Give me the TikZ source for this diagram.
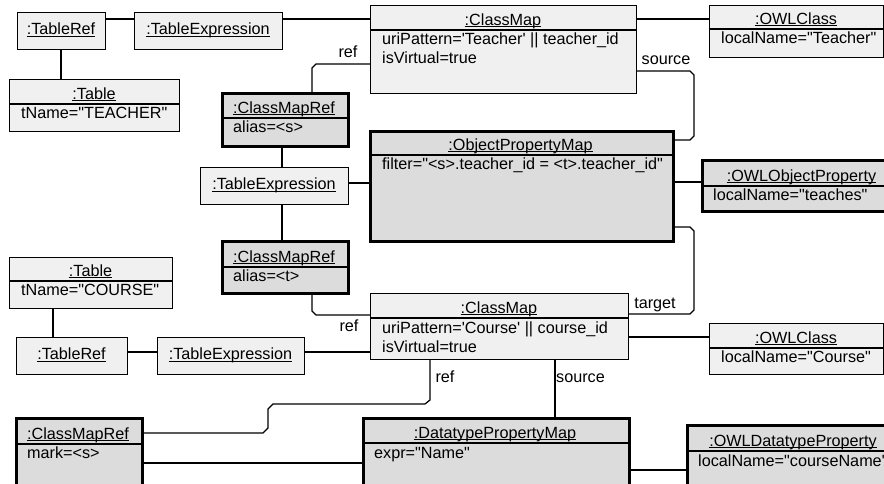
\documentclass[tikz,border=0pt]{standalone}
\usepackage{fontspec}
\setmainfont{Liberation Sans}[Ligatures=TeXOff]
\definecolor{objlight}{HTML}{F0F0F0}
\definecolor{objdark}{HTML}{DCDCDC}

% object box with a single compartment: style, name, x1, y1, x2, y2, title
\newcommand\objsimple[7]{%
  \node[#1, anchor=north west, minimum width={(#5)-(#3)}, minimum height={(#6)-(#4)}] (#2) at (#3,#4) {};
  \node[txt, anchor=base] (#2-title) at ({((#3)+(#5))/2},{((#4)+(#6))/2+4}) {#7};
  \draw[uline] ([yshift=-1.6pt]#2-title.base west) -- ([yshift=-1.6pt]#2-title.base east);
}
% object box with a name compartment and an attribute compartment:
% style, name, x1, y1, x2, y2, divider y, title
\newcommand\objcomp[8]{%
  \node[#1, anchor=north west, minimum width={(#5)-(#3)}, minimum height={(#6)-(#4)}] (#2) at (#3,#4) {};
  \draw[divider] (#3,#7) -- (#5,#7);
  \node[txt, anchor=base] (#2-title) at ({((#3)+(#5))/2},{(#7)-5}) {#8};
  \draw[uline] ([yshift=-1.6pt]#2-title.base west) -- ([yshift=-1.6pt]#2-title.base east);
}

\begin{document}
\begin{tikzpicture}[x=1pt,y=-1pt,
  txt/.style={inner sep=0pt, font=\fontsize{16.2}{18}\selectfont},
  attr/.style={txt, anchor=base west},
  lbl/.style={txt, anchor=base},
  lightobj/.style={draw=black, fill=objlight, line width=1.2pt, inner sep=0pt},
  darkobj/.style={draw=black, fill=objdark, line width=3pt, inner sep=0pt},
  divider/.style={draw=black, line width=1.2pt},
  uline/.style={draw=black, line width=0.9pt},
  conn/.style={draw=black, line width=1.2pt}]

\useasboundingbox (0,0) rectangle (884,483);
\fill[white] (0,0) rectangle (884,483);
\clip (0,0) rectangle (884,483);

% ---- Teacher side ----
\objsimple{lightobj}{tref1}{17}{12}{105}{49}{:TableRef}
\objsimple{lightobj}{texp1}{134}{12}{282}{49}{:TableExpression}

\objcomp{lightobj}{table1}{9}{79}{179}{131}{104}{:Table}
\node[attr] (table1-a1) at (21,118) {tName="TEACHER"};

\objcomp{lightobj}{cm1}{370}{5}{636}{93}{30}{:ClassMap}
\node[attr] (cm1-a1) at (382,44) {uriPattern=\textquotesingle Teacher\textquotesingle\ || teacher\_id};
\node[attr] (cm1-a2) at (382,63) {isVirtual=true};

\objcomp{lightobj}{owlc1}{709}{5}{883}{57}{29}{:OWLClass}
\node[attr] (owlc1-a1) at (721,43) {localName="Teacher"};

\objcomp{darkobj}{cmr1}{221}{92}{347}{145}{118}{:ClassMapRef}
\node[attr] (cmr1-a1) at (233,132) {alias=<s>};

\objcomp{darkobj}{opm}{369}{130}{672}{240}{155}{:ObjectPropertyMap}
\node[attr] (opm-a1) at (382,169) {filter="<s>.teacher\_id = <t>.teacher\_id"};

\objsimple{lightobj}{texp2}{200}{167}{348}{204}{:TableExpression}

\objcomp{darkobj}{owlop}{701}{159}{902}{210}{186}{:OWLObjectProperty}
\node[attr] (owlop-a1) at (713,200) {localName="teaches"};

\objcomp{darkobj}{cmr2}{221}{240}{347}{292}{267}{:ClassMapRef}
\node[attr] (cmr2-a1) at (233,281) {alias=<t>};

% ---- Course side ----
\objcomp{lightobj}{table2}{9}{257}{172}{308}{281}{:Table}
\node[attr] (table2-a1) at (21,295) {tName="COURSE"};

\objcomp{lightobj}{cm2}{370}{293}{628}{359}{318}{:ClassMap}
\node[attr] (cm2-a1) at (382,333) {uriPattern=\textquotesingle Course\textquotesingle\ || course\_id};
\node[attr] (cm2-a2) at (382,352) {isVirtual=true};

\objcomp{lightobj}{owlc2}{709}{323}{883}{374}{348}{:OWLClass}
\node[attr] (owlc2-a1) at (721,362) {localName="Course"};

\objsimple{lightobj}{tref2}{16}{337}{127}{374}{:TableRef}
\objsimple{lightobj}{texp3}{157}{337}{304}{374}{:TableExpression}

\objcomp{darkobj}{cmr3}{15}{417}{141}{510}{444}{:ClassMapRef}
\node[attr] (cmr3-a1) at (27,458) {mark=<s>};

\objcomp{darkobj}{dpm}{362}{417}{628}{510}{443}{:DatatypePropertyMap}
\node[attr] (dpm-a1) at (374,458) {expr="Name"};

\objcomp{darkobj}{owldp}{686}{424}{900}{510}{451}{:OWLDatatypeProperty}
\node[attr] (owldp-a1) at (698,466) {localName="courseName"};

% ---- links ----
\draw[conn] (tref1.east |- 0,19) -- (texp1.west |- 0,19);
\draw[conn] (texp1.east |- 0,19) -- (cm1.west |- 0,19);
\draw[conn] (tref1.south -| 61,0) -- (table1.north -| 61,0);
\draw[conn] (cm1.east |- 0,19) -- (owlc1.west |- 0,19);

\draw[conn] (cmr1.north -| 312,0) -- (312,68) -- (316,64) -- (cm1.west |- 0,64);
\node[lbl] (ref1) at (348,57) {ref};

\draw[conn] (cm1.east |- 0,71) -- (690,71) -- (694,75) -- (694,136) -- (690,140) -- (opm.east |- 0,140);
\node[lbl] (source1) at (666,64) {source};

\draw[conn] (cmr1.south -| 282,0) -- (texp2.north -| 282,0);
\draw[conn] (texp2.south -| 282,0) -- (cmr2.north -| 282,0);
\draw[conn] (texp2.east |- 0,183) -- (opm.west |- 0,183);
\draw[conn] (opm.east |- 0,182) -- (owlop.west |- 0,182);

\draw[conn] (opm.east |- 0,227) -- (690,227) -- (694,231) -- (694,310) -- (690,314) -- (cm2.east |- 0,314);
\node[lbl] (target1) at (655,308) {target};

\draw[conn] (cmr2.south -| 312,0) -- (312,311) -- (316,315) -- (cm2.west |- 0,315);
\node[lbl] (ref2) at (349,331) {ref};

\draw[conn] (table2.south -| 53,0) -- (tref2.north -| 53,0);
\draw[conn] (tref2.east |- 0,352) -- (texp3.west |- 0,352);
\draw[conn] (texp3.east |- 0,352) -- (cm2.west |- 0,352);
\draw[conn] (cm2.east |- 0,337) -- (owlc2.west |- 0,337);

\draw[conn] (cm2.south -| 555,0) -- (dpm.north -| 555,0);
\node[lbl, anchor=base west] (source2) at (556,382) {source};

\draw[conn] (cm2.south -| 430,0) -- (430,400) -- (425,404) -- (273,404) -- (268,409) -- (268,428) -- (263,433) -- (cmr3.east |- 0,433);
\node[lbl] (ref3) at (445,382) {ref};

\draw[conn] (cmr3.east |- 0,463) -- (dpm.west |- 0,463);
\draw[conn] (dpm.east |- 0,470) -- (owldp.west |- 0,470);
\end{tikzpicture}
\end{document}
